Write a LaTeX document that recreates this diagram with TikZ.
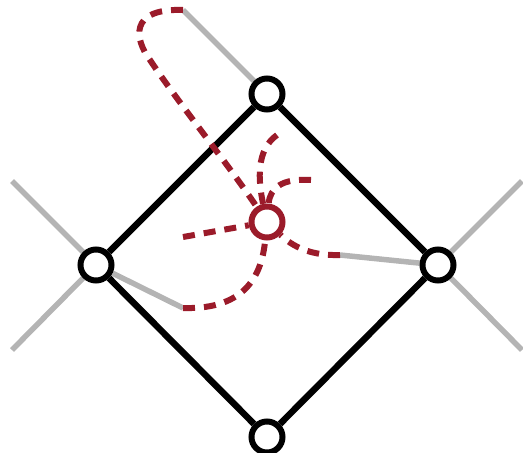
\documentclass[tikz,border=0pt]{standalone}
\definecolor{dred}{RGB}{155,27,42}
\definecolor{lgray}{RGB}{180,180,180}
\pgfdeclarelayer{bg}
\pgfsetlayers{bg,main}
\tikzset{
  vtx/.style={circle,draw=black,line width=6pt,fill=white,minimum size=31pt,inner sep=0pt},
  rvtx/.style={vtx,draw=dred},
  grayline/.style={draw=lgray,line width=5.5pt},
  edgeline/.style={draw=black,line width=6.5pt},
  redpath/.style={draw=dred,line width=6pt,dash pattern=on 12pt off 9pt}
}
\begin{document}
\begin{tikzpicture}[x=1pt,y=-1pt]
\useasboundingbox (0,0) rectangle (523,453);
% nodes
\node[vtx] (T) at (267,94) {};
\node[vtx] (L) at (96,265) {};
\node[vtx] (R) at (438,265) {};
\node[vtx] (B) at (267,437) {};
\node[rvtx] (C) at (267,222) {};
% free ends
\coordinate (gT) at (183,10);
\coordinate (gL1) at (12,181);
\coordinate (gL2) at (12,350);
\coordinate (gR1) at (522,181);
\coordinate (gR2) at (522,350);
\coordinate (gL3) at (183,308);
\coordinate (gR3) at (340,255);
\coordinate (rA) at (183,237);
\coordinate (rB) at (311,180);
\coordinate (rD) at (277,135);
\begin{pgfonlayer}{bg}
  \draw[grayline] (T) -- (gT);
  \draw[grayline] (L) -- (gL1);
  \draw[grayline] (L) -- (gL2);
  \draw[grayline] (R) -- (gR1);
  \draw[grayline] (R) -- (gR2);
  \draw[grayline] (L) -- (gL3);
  \draw[grayline] (R) -- (gR3);
  \draw[edgeline] (T) -- (R);
  \draw[edgeline] (R) -- (B);
  \draw[edgeline] (B) -- (L);
  \draw[edgeline] (L) -- (T);
  \draw[redpath] (gT) .. controls (128,8) and (135,40) .. (150,60)
                 .. controls (180,105) and (225,160) .. (C);
  \draw[redpath] (rA) -- (C);
  \draw[redpath] (gL3) .. controls (248,310) and (262,272) .. (C);
  \draw[redpath] (gR3) .. controls (310,256) and (292,246) .. (C);
  \draw[redpath] (rB) .. controls (282,178) and (270,188) .. (C);
  \draw[redpath] (rD) .. controls (256,150) and (258,180) .. (C);
\end{pgfonlayer}
\end{tikzpicture}
\end{document}
